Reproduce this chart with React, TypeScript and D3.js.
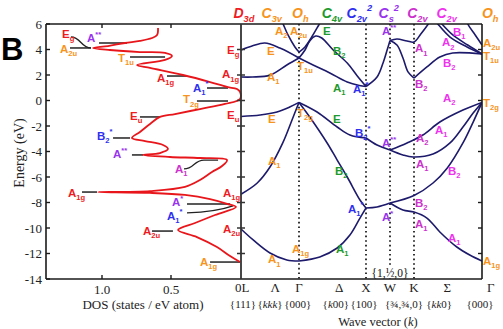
import React from "react";
import * as d3 from "d3";

// ---------------- data ----------------
const energyTicks = [6, 4, 2, 0, -2, -4, -6, -8, -10, -12, -14];
const innerTicks = [4, 2, 0, -2, -4, -6, -8, -10, -12];
const dosTicks = [1.0, 0.5];
const dosTickLabels = ["1.0", "0.5"];

// k-path nodes: L, Γ, X, W, K, Γ
const kNodes = [0, 1, 2, 3, 4, 5];
const dottedNodes = [1, 2, 3, 4];
const kRow1 = ["0L", "Λ", "Γ", "Δ", "X", "W", "K", "Σ", "Γ"];
const kRow1Pos = [0.02, 0.59, 1.0, 1.6, 2.0, 3.0, 4.0, 4.49, 5.13];
const kRow2 = ["{111}", "{kkk}", "{000}", "{k00}", "{100}", "{¾,¾,0}", "{kk0}", "{000}"];
const kRow2Pos = [0.034, 0.5, 0.98, 1.55, 1.97, 3.58, 4.37, 4.97];

// symmetry group labels [k, main, sub, sup, colour]
const symLabels: [number, string, string, string, string][] = [
  [0.05, "D", "3d", "", "red"],
  [0.53, "C", "3v", "", "orange"],
  [1.02, "O", "h", "", "orange"],
  [1.49, "C", "4v", "", "green"],
  [1.9, "C", "2v", "2", "blue"],
  [2.95, "C", "s", "2", "purple"],
  [4.05, "C", "2v", "", "magK"],
  [4.48, "C", "2v", "", "magS"],
  [5.12, "O", "h", "", "orange"],
];

// density of states (red curve), energy (eV) and DOS (states / eV atom)
const dosEnergy = [5.69, 5.14, 4.9, 4.67, 4.51, 4.27, 4.12, 3.96, 3.8, 3.73, 3.49, 3.18, 2.78, 2.55, 2.0, 1.45, 1.06, 0.9, 0.67, 0.12, -0.27, -0.67, -1.06, -1.29, -1.84, -2.47, -2.94, -3.18, -3.49, -3.8, -4.12, -4.27, -4.43, -4.51, -4.67, -5.14, -5.61, -6.24, -6.78, -7.1, -7.18, -7.25, -7.41, -7.73, -8.12, -8.35, -8.98, -9.61, -10.16, -10.71, -11.49, -12.2, -12.67];
const dosValue = [0.594, 0.601, 0.638, 0.725, 0.833, 0.957, 1.065, 0.942, 0.725, 0.543, 0.493, 0.543, 0.746, 0.652, 0.413, 0.217, 0.094, 0.022, 0, 0, 0.109, 0.29, 0.471, 0.58, 0.652, 0.725, 0.783, 0.688, 0.558, 0.522, 0.58, 0.703, 0.507, 0.29, 0.094, 0.13, 0.203, 0.29, 0.399, 0.652, 1.029, 0.652, 0.399, 0.217, 0.087, 0.029, 0.181, 0.326, 0.449, 0.312, 0.167, 0.072, 0];

// level markers on the DOS panel: [energy, dos from, dos to]
const dosLevels: [number, number, number][] = [
  [4.12, 1.232, 1.08], [4.51, 1.022, 0.819], [3.41, 0.797, 0.543], [1.92, 0.529, 0.384],
  [0.98, 0.239, 0.087], [-0.04, 0.312, 0.087], [-1.29, 0.725, 0.58], [-2.94, 0.92, 0.797],
  [-4.27, 0.783, 0.703], [-7.18, 1.145, 1.036], [-8.12, 0.384, 0.072], [-10.24, 0.638, 0.486],
  [-12.67, 0.217, 0],
];
// connectors [dos0, e0, dos1, e1, dosTail]
const dosConnectors: [number, number, number, number, number][] = [
  [1.225, 4.98, 1.08, 4.12, 1.08],
  [0.406, -5.37, 0.261, -4.67, 0.159],
  [0.384, -8.82, 0.051, -8.27, 0.051],
];

const dosLabels: [number, number, string, string, string, string][] = [
  [1.29, 4.9, "E", "g", "", "red"],
  [1.304, 3.73, "A", "2u", "", "orange"],
  [1.109, 4.59, "A", "", "**", "purple"],
  [0.884, 3.02, "T", "1u", "", "orange"],
  [0.601, 1.45, "A", "1g", "", "red"],
  [0.341, 0.67, "A", "1", "*", "blue"],
  [0.413, -0.2, "T", "2g", "", "orange"],
  [0.797, -1.53, "E", "u", "", "red"],
  [1.036, -3.1, "B", "2", "*", "blue"],
  [0.92, -4.51, "A", "", "**", "purple"],
  [0.471, -5.69, "A", "1", "", "magK"],
  [1.246, -7.57, "A", "1g", "", "red"],
  [0.493, -8.27, "A", "", "*", "purple"],
  [0.529, -9.37, "A", "1", "*", "blue"],
  [0.703, -10.55, "A", "2u", "", "red"],
  [0.29, -12.98, "A", "1g", "", "orange"],
];

// band structure segments [k, E]
const bandSegments: [number, number][][] = [
  [[0, 3.96], [0.19, 4.27], [0.41, 4.51], [0.67, 4.12], [1, 3.33]],
  [[0, 1.84], [0.2, 1.84], [0.5, 1.99], [0.79, 2.78], [1, 3.33]],
  [[0.6, 7.1], [0.71, 6.16], [0.81, 5.14], [0.93, 4.2], [1, 3.8]],
  [[1, 3.8], [1.09, 4.2], [1.19, 4.98], [1.27, 5.69], [1.34, 6.31], [1.4, 6.78]],
  [[1, 3.33], [1.09, 3.96], [1.16, 4.67], [1.25, 5.06], [1.34, 4.9], [1.51, 3.96], [1.72, 2.94], [1.87, 1.92], [2, 1.1]],
  [[1, 3.33], [1.21, 2.79], [1.46, 2.16], [1.72, 1.45], [1.9, 1.18], [2, 1.1]],
  [[2, 1.1], [2.46, 1.84], [2.71, 2.94], [2.88, 3.96], [3, 4.7]],
  [[3, 4.7], [3.29, 4.82], [3.71, 4.67], [4, 4.59], [4.1, 5.22], [4.21, 6.0], [4.26, 6.47]],
  [[3, 4.7], [3.29, 4.35], [3.54, 3.33], [3.75, 2.24], [4, 1.76]],
  [[4, 1.76], [4.19, 2.63], [4.38, 3.41], [4.57, 3.73], [5, 3.65]],
  [[4.24, 6.78], [4.35, 6.0], [4.53, 4.98], [4.78, 4.2], [5, 3.65]],
  [[4.29, 6.78], [4.41, 6.0], [4.57, 5.14], [4.79, 4.35], [5, 3.65]],
  [[4.74, 6.78], [4.79, 6.0], [4.9, 5.14], [5, 4.35]],
  [[0, -1.25], [0.33, -1.14], [0.62, -0.9], [0.84, -0.51], [1, -0.15]],
  [[1, -0.15], [1.27, -0.9], [1.57, -2.08], [1.76, -2.71], [2, -2.94]],
  [[2, -2.94], [2.46, -3.49], [3, -3.88]],
  [[3, -3.88], [3.71, -3.33], [4.13, -2.71], [4.38, -1.69], [4.72, -0.75], [5, -0.15]],
  [[3, -3.88], [3.54, -4.27], [3.96, -4.43], [4.28, -4.2], [4.53, -3.33], [4.72, -2.08], [4.87, -0.98], [5, -0.15]],
  [[0, -7.35], [0.28, -6.47], [0.5, -5.22], [0.72, -3.33], [0.9, -1.29], [1, -0.15]],
  [[1, -0.15], [1.16, -1.29], [1.42, -3.33], [1.57, -4.67], [1.72, -6.0], [1.91, -7.8], [2, -8.43]],
  [[0, -10.08], [0.21, -10.94], [0.5, -11.96], [0.79, -12.51], [1, -12.59]],
  [[1, -12.59], [1.31, -12.27], [1.57, -11.57], [1.76, -10.55], [1.91, -9.22], [2, -8.43]],
  [[2, -8.43], [2.46, -8.35], [3, -8.04]],
  [[3, -8.04], [4, -7.45], [4.28, -6.47], [4.49, -5.29], [4.72, -3.33], [4.87, -1.69], [5, -0.15]],
  [[3, -8.04], [3.54, -8.59], [4, -8.75], [4.19, -9.22], [4.38, -10.31], [4.63, -11.49], [4.82, -12.12], [5, -12.59]],
];

// band labels [k, E, main, sub, sup, colour]
const bandLabels: [number, number, string, string, string, string][] = [
  [-0.241, 3.65, "E", "g", "", "red"],
  [-0.328, 1.76, "A", "1g", "", "red"],
  [-0.241, -1.45, "E", "u", "", "red"],
  [-0.31, -7.57, "A", "1g", "", "red"],
  [-0.31, -10.39, "A", "2u", "", "red"],
  [0.586, 5.14, "A", "2", "", "orange"],
  [0.845, 5.14, "A", "2u", "", "orange"],
  [0.448, 3.57, "E", "", "", "orange"],
  [0.966, 2.39, "T", "1u", "", "orange"],
  [0.448, 1.53, "A", "1", "", "orange"],
  [1.358, 5.14, "E", "", "", "green"],
  [1.507, 3.57, "B", "2", "", "green"],
  [1.507, 0.67, "A", "1", "", "green"],
  [1.806, 0.59, "A", "1", "*", "blue"],
  [2.667, 5.14, "A", "", "**", "purple"],
  [4.015, 3.8, "A", "1", "", "magK"],
  [4.412, 4.27, "A", "2", "", "magS"],
  [4.574, 5.06, "B", "1", "", "magS"],
  [4.015, 0.98, "B", "2", "", "magK"],
  [4.426, 2.63, "B", "2", "", "magS"],
  [5.015, 4.2, "A", "2u", "", "orange"],
  [5.015, 3.18, "T", "1u", "", "orange"],
  [0.466, -1.76, "E", "", "", "orange"],
  [0.966, -1.29, "T", "2g", "", "orange"],
  [1.507, -1.76, "E", "", "", "green"],
  [0.466, -5.06, "A", "1", "", "orange"],
  [1.537, -5.84, "B", "2", "", "green"],
  [1.836, -2.86, "B", "2", "*", "blue"],
  [2.667, -3.65, "A", "", "**", "purple"],
  [4.03, -3.25, "A", "2", "", "magK"],
  [4.03, -5.29, "A", "1", "", "magK"],
  [4.426, -0.12, "A", "2", "", "magS"],
  [4.309, -2.63, "A", "1", "", "magS"],
  [4.5, -5.84, "B", "2", "", "magS"],
  [5.015, -0.51, "T", "2g", "", "orange"],
  [0.466, -12.75, "A", "1", "", "orange"],
  [0.879, -11.96, "A", "1g", "", "orange"],
  [1.552, -11.96, "A", "1", "", "green"],
  [1.731, -8.82, "A", "1", "*", "blue"],
  [2.667, -9.45, "A", "", "*", "purple"],
  [4.015, -8.35, "B", "2", "", "magK"],
  [4.015, -10.0, "A", "1", "", "magK"],
  [4.5, -11.1, "A", "1", "", "magS"],
  [5.015, -12.9, "A", "1g", "", "orange"],
];

// ---------------- styles / layout ----------------
const palette: Record<string, string> = {
  red: "#ee1c24",
  orange: "#f7941d",
  green: "#1f9a2e",
  blue: "#2f2ff0",
  purple: "#9933ee",
  magK: "#cc33cc",
  magS: "#ee33ee",
};
const SANS = "'Liberation Sans', Arial, sans-serif";
const SERIF = "'Liberation Serif', 'Times New Roman', serif";
const TOP = 24, BOTTOM = 279, LEFT = 46, MID = 241, RIGHT = 482;

const yE = d3.scaleLinear().domain([-14, 6]).range([BOTTOM, TOP]);
const xDos = d3.scaleLinear().domain([0, 1]).range([240, 102]);
const xK = d3.scaleLinear().domain(kNodes).range([MID, 299, 366, 390, 414, RIGHT]);

function Lbl(props: { x: number; y: number; color: string; main: string; sub?: string; sup?: string; size?: number; anchor?: string; italic?: boolean; weight?: string; family?: string }) {
  const { x, y, color, main, sub, sup, size = 12, anchor = "start", italic = false, weight = "normal", family = SANS } = props;
  const ss = size * 0.66;
  return (
    <text x={x} y={y} fill={color} fontSize={size} textAnchor={anchor as any} fontStyle={italic ? "italic" : "normal"} fontWeight={weight} fontFamily={family}>
      <tspan>{main}</tspan>
      {sub ? <tspan fontSize={ss} dy={size * 0.3}>{sub}</tspan> : null}
      {sup ? <tspan fontSize={ss} dy={sub ? -size * 0.8 : -size * 0.45}>{sup}</tspan> : null}
    </text>
  );
}

export default function App() {
  const bandLine = d3
    .line<[number, number]>()
    .x((d) => xK(d[0]))
    .y((d) => yE(d[1]))
    .curve(d3.curveCatmullRom.alpha(0.5));
  const dosPts: [number, number][] = dosEnergy.map((e, i) => [dosValue[i], e]);
  const dosLine = d3
    .line<[number, number]>()
    .x((d) => xDos(d[0]))
    .y((d) => yE(d[1]))
    .curve(d3.curveCatmullRom.alpha(0.5));

  const black = "#1a1a1a";
  return (
    <svg width={503} height={329} style={{ position: "absolute", left: 0, top: 0, background: "#fff" }}>
      <defs>
        <clipPath id="bandClip">
          <rect x={MID} y={TOP} width={RIGHT - MID} height={BOTTOM - TOP} />
        </clipPath>
      </defs>
      <rect x={0} y={0} width={503} height={329} fill="#fff" />

      {/* panel letter */}
      <text x={1} y={60} fontFamily={SANS} fontWeight="bold" fontSize={31} fill="#000">B</text>

      {/* dotted symmetry lines */}
      {dottedNodes.map((k) => (
        <line key={"dl" + k} x1={xK(k)} x2={xK(k)} y1={TOP} y2={BOTTOM} stroke="#111" strokeWidth={1.7} strokeDasharray="1.6,3" />
      ))}
      <rect x={371} y={266} width={37} height={12} fill="#fff" />
      <text x={390} y={277} textAnchor="middle" fontFamily={SERIF} fontSize={11.5} fill="#111">{"{1,½,0}"}</text>

      {/* DOS level markers */}
      {dosLevels.map((l, i) => (
        <line key={"lv" + i} x1={xDos(l[1])} x2={xDos(l[2])} y1={yE(l[0])} y2={yE(l[0])} stroke="#222" strokeWidth={1.5} />
      ))}
      {dosConnectors.map((c, i) => {
        const x0 = xDos(c[0]), y0 = yE(c[1]), x1 = xDos(c[2]), y1 = yE(c[3]), xt = xDos(c[4]);
        const xm = (x0 + x1) / 2;
        const d = i === 2
          ? `M${x0},${y0} Q${xm + 6},${y0 - 1} ${x1},${y1}`
          : `M${x0},${y0} C${xm},${y0} ${xm},${y1} ${x1},${y1} L${xt},${y1}`;
        return <path key={"cn" + i} d={d} fill="none" stroke="#222" strokeWidth={1.3} />;
      })}

      {/* DOS curve */}
      <path d={dosLine(dosPts) || ""} fill="none" stroke="#e8161b" strokeWidth={1.8} />

      {/* band structure */}
      <g clipPath="url(#bandClip)">
        {bandSegments.map((s, i) => (
          <path key={"b" + i} d={bandLine(s) || ""} fill="none" stroke="#1d1a6c" strokeWidth={1.6} />
        ))}
      </g>

      {/* frame */}
      <line x1={LEFT} x2={RIGHT} y1={TOP} y2={TOP} stroke={black} strokeWidth={1.6} />
      <line x1={LEFT} x2={RIGHT} y1={BOTTOM} y2={BOTTOM} stroke={black} strokeWidth={1.6} />
      <line x1={LEFT} x2={LEFT} y1={TOP} y2={BOTTOM} stroke={black} strokeWidth={1.6} />
      <line x1={MID} x2={MID} y1={TOP} y2={BOTTOM} stroke="#333" strokeWidth={1.8} />
      <line x1={RIGHT} x2={RIGHT} y1={TOP} y2={BOTTOM} stroke={black} strokeWidth={1.6} />

      {/* energy ticks */}
      {energyTicks.map((t) => (
        <g key={"et" + t}>
          <line x1={LEFT} x2={LEFT + 4} y1={yE(t)} y2={yE(t)} stroke={black} strokeWidth={1.4} />
          <text x={42} y={yE(t) + 4.5} textAnchor="end" fontFamily={SERIF} fontSize={13} fill="#222">{t}</text>
        </g>
      ))}
      {innerTicks.map((t) => (
        <g key={"it" + t}>
          <line x1={MID - 4} x2={MID + 4} y1={yE(t)} y2={yE(t)} stroke="#333" strokeWidth={1.5} />
          <line x1={RIGHT - 4} x2={RIGHT} y1={yE(t)} y2={yE(t)} stroke={black} strokeWidth={1.4} />
        </g>
      ))}
      {dosTicks.map((t, i) => (
        <g key={"dt" + t}>
          <line x1={xDos(t)} x2={xDos(t)} y1={TOP} y2={TOP + 4} stroke={black} strokeWidth={1.4} />
          <line x1={xDos(t)} x2={xDos(t)} y1={BOTTOM} y2={BOTTOM - 4} stroke={black} strokeWidth={1.4} />
          <text x={xDos(t)} y={294} textAnchor="middle" fontFamily={SERIF} fontSize={13} fill="#222">{dosTickLabels[i]}</text>
        </g>
      ))}

      {/* axis titles */}
      <text transform="translate(24,153) rotate(-90)" textAnchor="middle" fontFamily={SERIF} fontSize={14} fill="#222">Energy (eV)</text>
      <text x={143} y={309} textAnchor="middle" fontFamily={SERIF} fontSize={13} fill="#222">DOS (states / eV atom)</text>
      <text x={378} y={326} textAnchor="middle" fontFamily={SERIF} fontSize={12.5} fill="#222">
        Wave vector (<tspan fontStyle="italic">k</tspan>)
      </text>

      {/* k-point rows */}
      {kRow1.map((s, i) => (
        <text key={"r1" + i} x={xK(kRow1Pos[i])} y={292} textAnchor="middle" fontFamily={SERIF} fontSize={13} fill="#222">{s}</text>
      ))}
      {kRow2.map((s, i) => (
        <text key={"r2" + i} x={xK(kRow2Pos[i])} y={308} textAnchor="middle" fontFamily={SERIF} fontSize={11} fill="#222">
          {s.split("").map((c, j) => (
            <tspan key={j} fontStyle={c === "k" ? "italic" : "normal"}>{c}</tspan>
          ))}
        </text>
      ))}

      {/* symmetry group labels */}
      {symLabels.map((s, i) => (
        <Lbl key={"sy" + i} x={xK(s[0])} y={18} color={palette[s[4]]} main={s[1]} sub={s[2]} sup={s[3]} size={14} anchor="middle" italic weight="bold" />
      ))}

      {/* DOS labels */}
      {dosLabels.map((l, i) => (
        <Lbl key={"dlb" + i} x={xDos(l[0])} y={yE(l[1])} color={palette[l[5]]} main={l[2]} sub={l[3]} sup={l[4]} size={11.5} weight="bold" />
      ))}
      {/* band labels */}
      {bandLabels.map((l, i) => (
        <Lbl key={"blb" + i} x={xK(l[0])} y={yE(l[1])} color={palette[l[5]]} main={l[2]} sub={l[3]} sup={l[4]} size={11.5} weight="bold" />
      ))}
    </svg>
  );
}
